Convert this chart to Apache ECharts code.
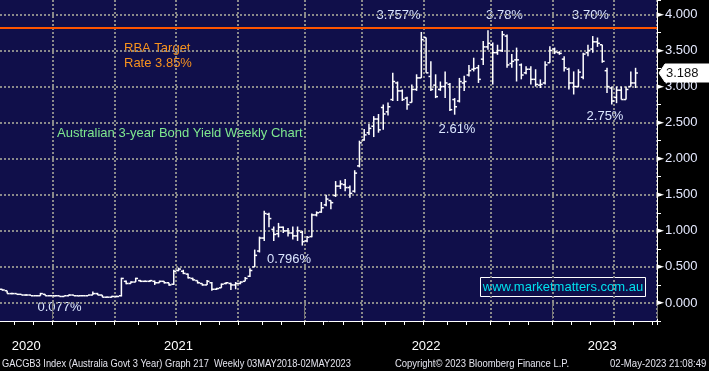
<!DOCTYPE html>
<html><head><meta charset="utf-8">
<script src="https://cdn.jsdelivr.net/npm/echarts@6/dist/echarts.min.js"></script>
<style>html,body{margin:0;padding:0;background:#000;}#c{width:709px;height:371px;}</style>
</head><body><div id="c"></div>
<script>
// ---- data (weekly bars, week ending Friday) ----
const firstWeek = '2020-10-16';
const slotCount = 138; // 134 weeks of data + 4 empty slots on the right
const opens = [
 .19,.17,.13,.13,.12,.11,.11,.10,.10,.12,.10,.10,.10,.09,.10,.11,.10,.10,.10,.11,.13,.11,.08,.08,.09,
 .10,.30,.27,.29,.31,.30,.30,.30,.28,.30,.28,.26,.45,.44,.40,.34,.31,.27,.25,.28,.19,.21,.27,.27,.25,.27,.30,
 .37,.50,.72,.90,1.23,1.02,.96,1.05,1.00,.97,.93,.98,
 .86,.92,1.22,1.26,1.36,1.42,1.49,1.62,1.64,1.60,1.55,1.90,2.26,2.36,2.45,2.55,2.71,2.65,2.82,3.05,2.94,2.84,2.78,2.96,
 3.12,3.68,3.14,3.02,2.96,3.00,3.03,2.82,2.80,3.05,3.16,3.24,3.26,3.38,3.55,3.58,3.47,3.50,3.70,3.32,3.37,3.30,3.19,3.24,3.10,3.02,3.05,3.33,
 3.52,3.47,3.38,3.24,3.05,3.00,3.13,3.47,3.52,3.62,3.58,3.22,2.98,2.85,2.95,2.82,3.00,3.05
];
const highs = [
 .19,.17,.14,.13,.12,.12,.11,.11,.14,.12,.11,.10,.10,.10,.12,.11,.10,.11,.11,.16,.14,.11,.09,.10,.10,
 .35,.31,.30,.35,.32,.31,.32,.31,.31,.30,.28,.46,.49,.46,.41,.35,.31,.27,.32,.29,.21,.27,.29,.28,.29,.30,.36,
 .48,.74,.92,1.28,1.25,1.06,1.11,1.06,1.04,1.06,1.06,1.00,
 .93,1.24,1.27,1.40,1.50,1.42,1.69,1.70,1.72,1.63,1.84,2.25,2.41,2.48,2.59,2.62,2.75,2.78,3.19,3.07,2.96,2.86,3.03,3.17,
 3.757,3.68,3.35,3.17,3.07,3.21,3.05,2.84,3.12,3.15,3.30,3.40,3.30,3.63,3.78,3.61,3.58,3.77,3.72,3.45,3.54,3.32,3.28,3.28,3.24,3.10,3.35,3.56,
 3.54,3.49,3.42,3.26,3.21,3.24,3.47,3.58,3.70,3.68,3.58,3.26,3.00,3.00,3.00,3.00,3.21,3.26
];
const lows = [
 .17,.13,.12,.12,.11,.10,.10,.10,.10,.10,.10,.09,.09,.09,.10,.10,.09,.10,.10,.11,.11,.08,.077,.08,.08,
 .09,.26,.27,.29,.29,.29,.29,.25,.28,.27,.24,.25,.44,.40,.34,.31,.27,.24,.25,.17,.18,.21,.26,.18,.19,.26,.30,
 .36,.50,.70,.86,1.05,.86,.91,.97,.92,.88,.86,.796,
 .84,.91,1.20,1.25,1.34,1.30,1.47,1.58,1.55,1.46,1.53,1.88,2.25,2.33,2.30,2.36,2.40,2.60,2.80,2.80,2.80,2.68,2.78,2.94,
 3.12,3.19,2.94,2.84,2.94,2.84,2.66,2.61,2.78,2.94,3.14,3.21,3.05,3.30,3.51,3.03,3.44,3.48,3.26,3.26,3.07,3.10,3.17,3.03,3.00,2.98,3.03,3.33,
 3.45,3.44,3.21,2.96,2.89,2.99,3.10,3.42,3.47,3.55,3.33,2.91,2.75,2.77,2.82,2.82,3.00,2.98
];
const closes = [
 .18,.13,.13,.12,.11,.11,.10,.10,.13,.10,.10,.10,.09,.10,.11,.10,.10,.10,.11,.13,.11,.08,.08,.09,.09,
 .34,.27,.29,.34,.30,.30,.31,.28,.30,.28,.25,.44,.47,.41,.35,.32,.28,.25,.30,.19,.20,.26,.28,.25,.27,.29,.34,
 .45,.66,.90,1.24,1.17,.95,1.05,1.00,.97,.93,1.00,.85,
 .91,1.22,1.25,1.32,1.44,1.39,1.62,1.65,1.60,1.52,1.80,2.22,2.33,2.42,2.55,2.40,2.62,2.72,3.07,2.94,2.82,2.75,2.96,3.12,
 3.65,3.19,2.96,2.86,3.00,3.05,2.68,2.72,3.07,3.07,3.22,3.25,3.10,3.55,3.60,3.47,3.50,3.72,3.30,3.35,3.37,3.16,3.24,3.10,3.03,3.03,3.30,3.50,
 3.48,3.46,3.26,3.05,3.00,3.20,3.45,3.50,3.62,3.60,3.35,3.00,2.80,2.95,2.82,2.96,3.05,3.188
];
const rbaLineLevel = 3.82;
const yMin = -0.25, yMax = 4.2;

// annotation texts
const peakNotes = [
  {text:'3.757%', x:398.5, y:15.5},
  {text:'3.78%',  x:504.5, y:15.5},
  {text:'3.70%',  x:590.5, y:15.5},
  {text:'2.61%',  x:457,   y:129},
  {text:'2.75%',  x:605,   y:116},
  {text:'0.077%', x:59.5,  y:307.5},
  {text:'0.796%', x:289,   y:259}
];

// ---- categories (weekly Fridays) ----
const cats = [];
const d0 = new Date(firstWeek + 'T00:00:00Z').getTime();
for (let i = 0; i < slotCount; i++) cats.push(new Date(d0 + i * 7 * 864e5).toISOString().slice(0, 10));
const mon = i => +cats[i].slice(5, 7);
const isMonthStart = i => i > 0 && mon(i) !== mon(i - 1);
const isQuarterStart = i => isMonthStart(i) && (mon(i) - 1) % 3 === 0;
const isYearStart = i => isMonthStart(i) && mon(i) === 1;
const yearMid = new Set();
{
  let s = 0;
  for (let i = 1; i <= slotCount; i++) {
    if (i === slotCount || isYearStart(i)) { yearMid.add(Math.floor((s + i - 1) / 2)); s = i; }
  }
}

const ohlc = opens.map((o, i) => [i, o, highs[i], lows[i], closes[i]]);
const FONT = 'Liberation Sans, Arial, sans-serif';
const grid = {dot: {color: '#8a8a8a', type: [2, 2], width: 2}};

const chart = echarts.init(document.getElementById('c'), null, {renderer: 'canvas'});
const option = {
  backgroundColor: '#000',
  animation: false,
  grid: {show: true, backgroundColor: '#100f4a', borderWidth: 0, left: 0, right: 52, top: 0, bottom: 50, containLabel: false, outerBoundsMode: 'none'},
  xAxis: [{
    type: 'category', data: cats, boundaryGap: true, position: 'bottom',
    axisLine: {show: true, onZero: false, lineStyle: {color: '#fff', width: 1}},
    axisTick: {show: true, length: 4, interval: i => isMonthStart(i), lineStyle: {color: '#fff', width: 1}},
    axisLabel: {show: false},
    splitLine: {show: true, interval: i => isQuarterStart(i), lineStyle: grid.dot}
  }, {
    type: 'category', data: cats, boundaryGap: true, position: 'bottom', offset: 17,
    axisLine: {show: false},
    axisTick: {show: true, length: 16, interval: i => isYearStart(i), lineStyle: {color: '#777', width: 1}},
    axisLabel: {show: true, interval: i => yearMid.has(i), formatter: v => v.slice(0, 4), color: '#fff', fontSize: 13, fontFamily: FONT, margin: 2},
    splitLine: {show: false}
  }],
  yAxis: [{
    type: 'value', position: 'right', min: yMin, max: yMax, splitNumber: 9,
    axisLine: {show: true, onZero: false, lineStyle: {color: '#fff', width: 1}},
    axisTick: {show: false},
    axisLabel: {
      show: true, margin: 0, showMinLabel: false, showMaxLabel: false,
      formatter: v => '{a|►}{b|' + v.toFixed(3) + '}',
      rich: {a: {fontSize: 9, color: '#fff', fontFamily: 'DejaVu Sans'}, b: {fontSize: 13, color: '#e6eaff', fontFamily: FONT, padding: [0, 0, 0, 1]}}
    },
    splitLine: {show: true, showMinLine: false, showMaxLine: false, lineStyle: grid.dot}
  }, {
    type: 'value', position: 'right', min: yMin, max: yMax, interval: 0.25,
    axisLine: {show: false}, axisTick: {show: true, length: 4, lineStyle: {color: '#fff'}},
    axisLabel: {show: false}, splitLine: {show: false}
  }],
  series: [{
    type: 'line', data: [], xAxisIndex: 0, yAxisIndex: 0, silent: true,
    markLine: {symbol: 'none', silent: true, label: {show: false}, lineStyle: {color: '#ff5500', width: 2, type: 'solid'}, data: [{yAxis: rbaLineLevel}]}
  }, {
    type: 'custom', xAxisIndex: 0, yAxisIndex: 0, data: ohlc, clip: true,
    encode: {x: 0, y: [1, 2, 3, 4]},
    renderItem: (params, api) => {
      const i = api.value(0);
      const pO = api.coord([i, api.value(1)]);
      const yH = api.coord([i, api.value(2)])[1];
      const yL = api.coord([i, api.value(3)])[1];
      const yC = api.coord([i, api.value(4)])[1];
      const x = pO[0];
      const w = api.size([1, 0])[0] * 0.5;
      const st = {stroke: '#fff', lineWidth: 1.5};
      return {type: 'group', children: [
        {type: 'line', shape: {x1: x, y1: yH, x2: x, y2: yL}, style: st},
        {type: 'line', shape: {x1: x - w, y1: pO[1], x2: x, y2: pO[1]}, style: st},
        {type: 'line', shape: {x1: x, y1: yC, x2: x + w, y2: yC}, style: st}
      ]};
    }
  }],
  graphic: []
};
chart.setOption(option);

// ---- texts & decorations ----
const g = [];
peakNotes.forEach(n => g.push({type: 'text', x: n.x, y: n.y, silent: true,
  style: {text: n.text, fill: '#dbe6ff', font: '13px ' + FONT, textAlign: 'center', textVerticalAlign: 'middle'}}));
g.push({type: 'text', x: 124, y: 48, style: {text: 'RBA Target', fill: '#f7921e', font: '13px ' + FONT, textAlign: 'left', textVerticalAlign: 'middle'}});
g.push({type: 'text', x: 124, y: 63.5, style: {text: 'Rate 3.85%', fill: '#f7921e', font: '13px ' + FONT, textAlign: 'left', textVerticalAlign: 'middle'}});
g.push({type: 'text', x: 57, y: 133, style: {text: 'Australian 3-year Bond Yield Weekly Chart', fill: '#7fe88f', font: '13px ' + FONT, textAlign: 'left', textVerticalAlign: 'middle'}});
g.push({type: 'rect', shape: {x: 480.5, y: 277.5, width: 165, height: 19}, style: {fill: 'none', stroke: '#fff', lineWidth: 1}});
g.push({type: 'text', x: 563, y: 287, style: {text: 'www.marketmatters.com.au', fill: '#00e1ee', font: '13px ' + FONT, textAlign: 'center', textVerticalAlign: 'middle'}});
g.push({type: 'text', x: 2, y: 364, scaleX: 0.845, style: {text: 'GACGB3 Index (Australia Govt 3 Year) Graph 217  Weekly 03MAY2018-02MAY2023', fill: '#e4e4ee', font: '11px ' + FONT, textAlign: 'left', textVerticalAlign: 'middle'}});
g.push({type: 'text', x: 395, y: 364, scaleX: 0.86, style: {text: 'Copyright\u00a9 2023 Bloomberg Finance L.P.', fill: '#e4e4ee', font: '11px ' + FONT, textAlign: 'left', textVerticalAlign: 'middle'}});
g.push({type: 'text', x: 610, y: 364, scaleX: 0.87, style: {text: '02-May-2023 21:08:49', fill: '#e4e4ee', font: '11px ' + FONT, textAlign: 'left', textVerticalAlign: 'middle'}});

// last-price tag on the right axis
const lastClose = closes[closes.length - 1];
const ty = chart.convertToPixel({yAxisIndex: 0}, lastClose);
const ax = chart.getWidth() - 52;
g.push({type: 'polygon', shape: {points: [[ax + 2, ty], [ax + 8, ty - 9], [709, ty - 9], [709, ty + 9], [ax + 8, ty + 9]]}, style: {fill: '#fff', stroke: '#fff'}, z: 100});
g.push({type: 'text', x: ax + 9, y: ty, z: 101, style: {text: lastClose.toFixed(3), fill: '#111', font: '13px ' + FONT, textAlign: 'left', textVerticalAlign: 'middle'}});
chart.setOption({graphic: g});
</script>
</body></html>
